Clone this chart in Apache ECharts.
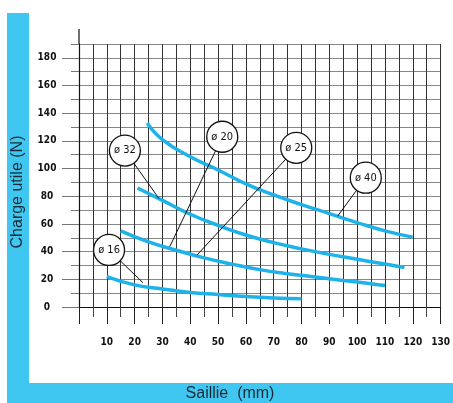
<!DOCTYPE html>
<html><head><meta charset="utf-8">
<script src="https://cdn.jsdelivr.net/npm/echarts@6/dist/echarts.min.js"></script>
<style>html,body{margin:0;padding:0;background:#fff}#c{width:453px;height:403px}</style>
</head><body><div id="c"></div>
<script>
// Tick labels
const xTickLabels = [10,20,30,40,50,60,70,80,90,100,110,120,130];
const yTickLabels = [0,20,40,60,80,100,120,140,160,180];
const yMinorTicks = [0,10,20,30,40,50,60,70,80,90,100,110,120,130,140,150,160,170,180,190];

// Curves (Saillie mm, Charge utile N)
const curve16 = [[10,22],[20,16],[30,13],[40,10.5],[50,9],[60,7.5],[70,6.5],[80,6]];
const curve20 = [[15,55],[25,47],[35,41],[45,35.5],[55,31],[65,27],[75,24],[85,21.7],[95,19.2],[105,16.8],[110,15.5]];
const curve32 = [[21,86],[30,77],[40,67],[50,59],[60,52],[70,46.5],[80,42],[90,38],[100,34.5],[110,31],[117,28.5]];
const curve40 = [[24.5,133],[30,121],[40,108.5],[50,99],[60,89],[70,81],[80,74],[90,67.5],[100,61],[110,55],[120,50.5]];

// Annotation labels: name, bubble position, leader end point
const labelNames = ['ø 16','ø 20','ø 25','ø 32','ø 40'];
const labelPos   = [[10.8,41.2],[51.5,123],[78.1,115],[16.5,113],[103.1,93.4]];
const leaderEnds = [[23,17.5],[32.6,43.5],[42.4,37.5],[28.7,78.5],[93,65.7]];

const blue = '#3fc7f1';
const curveColor = '#1db2ea';
const tickFont = {fontFamily:'DejaVu Sans Condensed', fontSize:10, fontWeight:'bold', color:'#111'};

const chart = echarts.init(document.getElementById('c'));
const curves = [curve16, curve20, curve32, curve40];

chart.setOption({
  animation:false,
  backgroundColor:'#fff',
  grid:{left:79, right:11, top:44, bottom:96},
  xAxis:[{
    type:'value', min:0, max:130, interval:10,
    axisLine:{show:true, lineStyle:{color:'#111', width:1.2}},
    axisTick:{show:true, length:17, lineStyle:{color:'#222', width:1}},
    minorTick:{show:true, splitNumber:2, length:10, lineStyle:{color:'#444', width:1}},
    splitLine:{show:true, lineStyle:{color:'#333', width:1}},
    minorSplitLine:{show:true, lineStyle:{color:'#333', width:1}},
    axisLabel:Object.assign({margin:30, customValues:xTickLabels}, tickFont)
  }],
  yAxis:[{
    type:'value', min:0, max:190, interval:10,
    axisLine:{show:true, lineStyle:{color:'#111', width:1.2}},
    axisTick:{show:true, length:8, customValues:yMinorTicks, lineStyle:{color:'#777', width:1}},
    splitLine:{show:true, lineStyle:{color:'#888', width:1}},
    axisLabel:Object.assign({margin:32, align:'center', customValues:yTickLabels}, tickFont)
  },{
    type:'value', min:0, max:190, interval:10, position:'left',
    axisLine:{show:false},
    axisTick:{show:true, length:17, customValues:yTickLabels, lineStyle:{color:'#777', width:1}},
    splitLine:{show:false},
    axisLabel:{show:false}
  }],
  graphic:[
    {type:'rect', shape:{x:7,y:13,width:22,height:390}, style:{fill:blue}, z:-10},
    {type:'rect', shape:{x:7,y:383,width:446,height:20}, style:{fill:blue}, z:-10},
    {type:'line', shape:{x1:79,y1:29,x2:79,y2:44}, style:{stroke:'#111', lineWidth:1.2}},
    {type:'text', x:18, y:192, rotation:Math.PI/2, style:{text:'Charge utile (N)', fill:'#1c2a33', font:'16px "Liberation Sans"', textAlign:'center', textVerticalAlign:'middle'}},
    {type:'text', x:230, y:394, style:{text:'Saillie  (mm)', fill:'#1c2a33', font:'16px "Liberation Sans"', textAlign:'center', textVerticalAlign:'middle'}}
  ],
  series: [
    ...curves.map(c => ({
      type:'line', data:c, smooth:0.5, showSymbol:false, z:5,
      lineStyle:{color:curveColor, width:3.5}
    })),
    {
      type:'lines', coordinateSystem:'cartesian2d', z:6,
      lineStyle:{color:'#111', width:1, opacity:1},
      data: labelPos.map((p,i) => ({coords:[p, leaderEnds[i]]}))
    },
    {
      type:'scatter', z:7, symbol:'circle', symbolSize:31,
      itemStyle:{color:'#fff', borderColor:'#111', borderWidth:1.3, opacity:1},
      data: labelPos.map((p,i) => ({value:p, name:labelNames[i]})),
      label:{show:true, position:'inside', formatter:p=>p.name, fontFamily:'DejaVu Sans Condensed', fontSize:11, color:'#111'}
    }
  ]
});
</script></body></html>
